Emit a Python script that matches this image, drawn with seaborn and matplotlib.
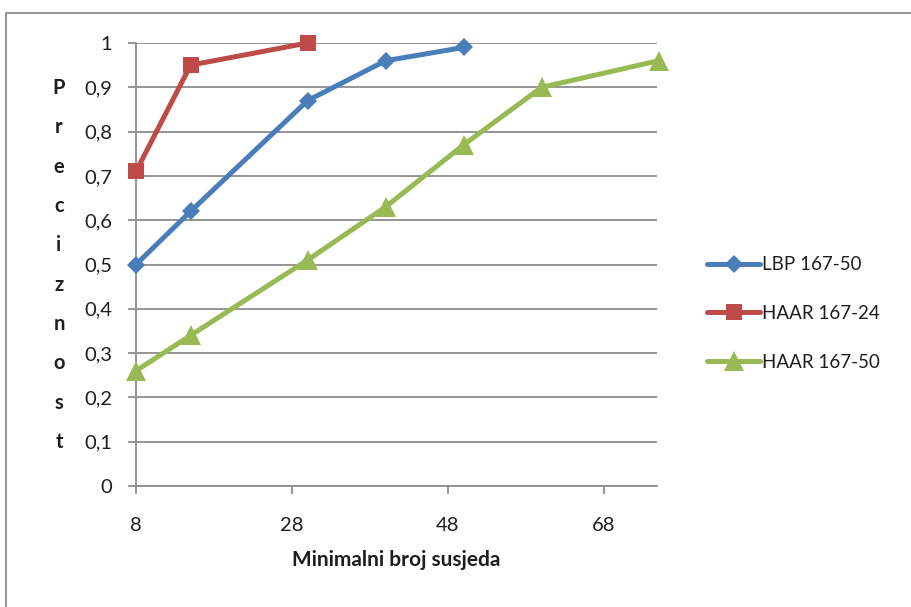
import matplotlib
matplotlib.use("Agg")
import matplotlib.pyplot as plt
import matplotlib.patches as mpatches
import seaborn as sns
import pandas as pd

# Series: minimum number of neighbours vs. precision
lbp_x = [8, 15, 30, 40, 50]
lbp_y = [0.50, 0.62, 0.87, 0.96, 0.99]

haar24_x = [8, 15, 30]
haar24_y = [0.71, 0.95, 1.00]

haar50_x = [8, 15, 30, 40, 50, 60, 75]
haar50_y = [0.26, 0.34, 0.51, 0.63, 0.77, 0.90, 0.96]

series_names = ["LBP 167-50", "HAAR 167-24", "HAAR 167-50"]
y_ticks = [0, 0.1, 0.2, 0.3, 0.4, 0.5, 0.6, 0.7, 0.8, 0.9, 1.0]
y_tick_labels = ["0", "0,1", "0,2", "0,3", "0,4", "0,5", "0,6", "0,7", "0,8", "0,9", "1"]
x_ticks = [8, 28, 48, 68]

sns.set_theme(style="white")
plt.rcParams["font.family"] = ["Lato", "DejaVu Sans"]

W, H = 912, 607
fig = plt.figure(figsize=(W / 100, H / 100), dpi=100)
fig.patch.set_facecolor("white")

L, R, T, B = 136, 657, 43, 486
ax = fig.add_axes([L / W, 1 - B / H, (R - L) / W, (B - T) / H])

frames = [
    pd.DataFrame({"x": lbp_x, "y": lbp_y, "s": series_names[0]}),
    pd.DataFrame({"x": haar24_x, "y": haar24_y, "s": series_names[1]}),
    pd.DataFrame({"x": haar50_x, "y": haar50_y, "s": series_names[2]}),
]
styles = [
    dict(color="#4A7EBB", marker="D", markersize=9.5),
    dict(color="#BE4B48", marker="s", markersize=12),
    dict(color="#98B954", marker="^", markersize=14),
]
for df, st in zip(frames, styles):
    sns.lineplot(data=df, x="x", y="y", ax=ax, label=df["s"].iloc[0],
                 linewidth=3.6, markeredgewidth=0, sort=False,
                 clip_on=False, zorder=3, **st)

ax.set_xlim(8, 74.8)
ax.set_ylim(0, 1)
ax.set_yticks(y_ticks)
ax.set_yticklabels(y_tick_labels)
ax.set_xticks(x_ticks)
ax.set_xticklabels([str(v) for v in x_ticks])

grid_c = "#8C8C8C"
text_c = "#1E1E1E"
ax.yaxis.grid(True, color=grid_c, linewidth=1.3)
ax.xaxis.grid(False)
ax.set_axisbelow(True)
for side in ["top", "right"]:
    ax.spines[side].set_visible(False)
for side in ["left", "bottom"]:
    ax.spines[side].set_color(grid_c)
    ax.spines[side].set_linewidth(1.3)

ax.tick_params(axis="y", which="major", left=True, length=6, width=1.3,
               color=grid_c, pad=11, labelsize=14.5, labelcolor=text_c)
ax.tick_params(axis="x", which="major", bottom=True, length=6, width=1.3,
               color=grid_c, pad=16, labelsize=14.5, labelcolor=text_c)

ax.set_xlabel("Minimalni broj susjeda", fontsize=15, fontweight="bold",
              color=text_c, labelpad=12)
ax.set_ylabel("")

# Vertical, letter-stacked axis title
fig.text(59 / W, 1 - 265 / H, "\n".join("Preciznost"), ha="center", va="center",
         fontsize=14.5, fontweight="bold", color=text_c, linespacing=2.21)

leg = ax.legend(loc="center left", bbox_to_anchor=(707 / W, 1 - 313.5 / H),
                bbox_transform=fig.transFigure, frameon=False, fontsize=13.5,
                handlelength=2.85, handletextpad=0.1, labelspacing=1.7,
                borderpad=0, borderaxespad=0)
for t in leg.get_texts():
    t.set_color(text_c)

# Chart-area border
fig.patches.append(mpatches.Rectangle((6.5 / W, -0.1), 1.2, 1 - 13 / H + 0.1,
                                      transform=fig.transFigure, fill=False,
                                      edgecolor="#8C8C8C", linewidth=1.3))

fig.savefig("out.png", dpi=100, facecolor="white")
